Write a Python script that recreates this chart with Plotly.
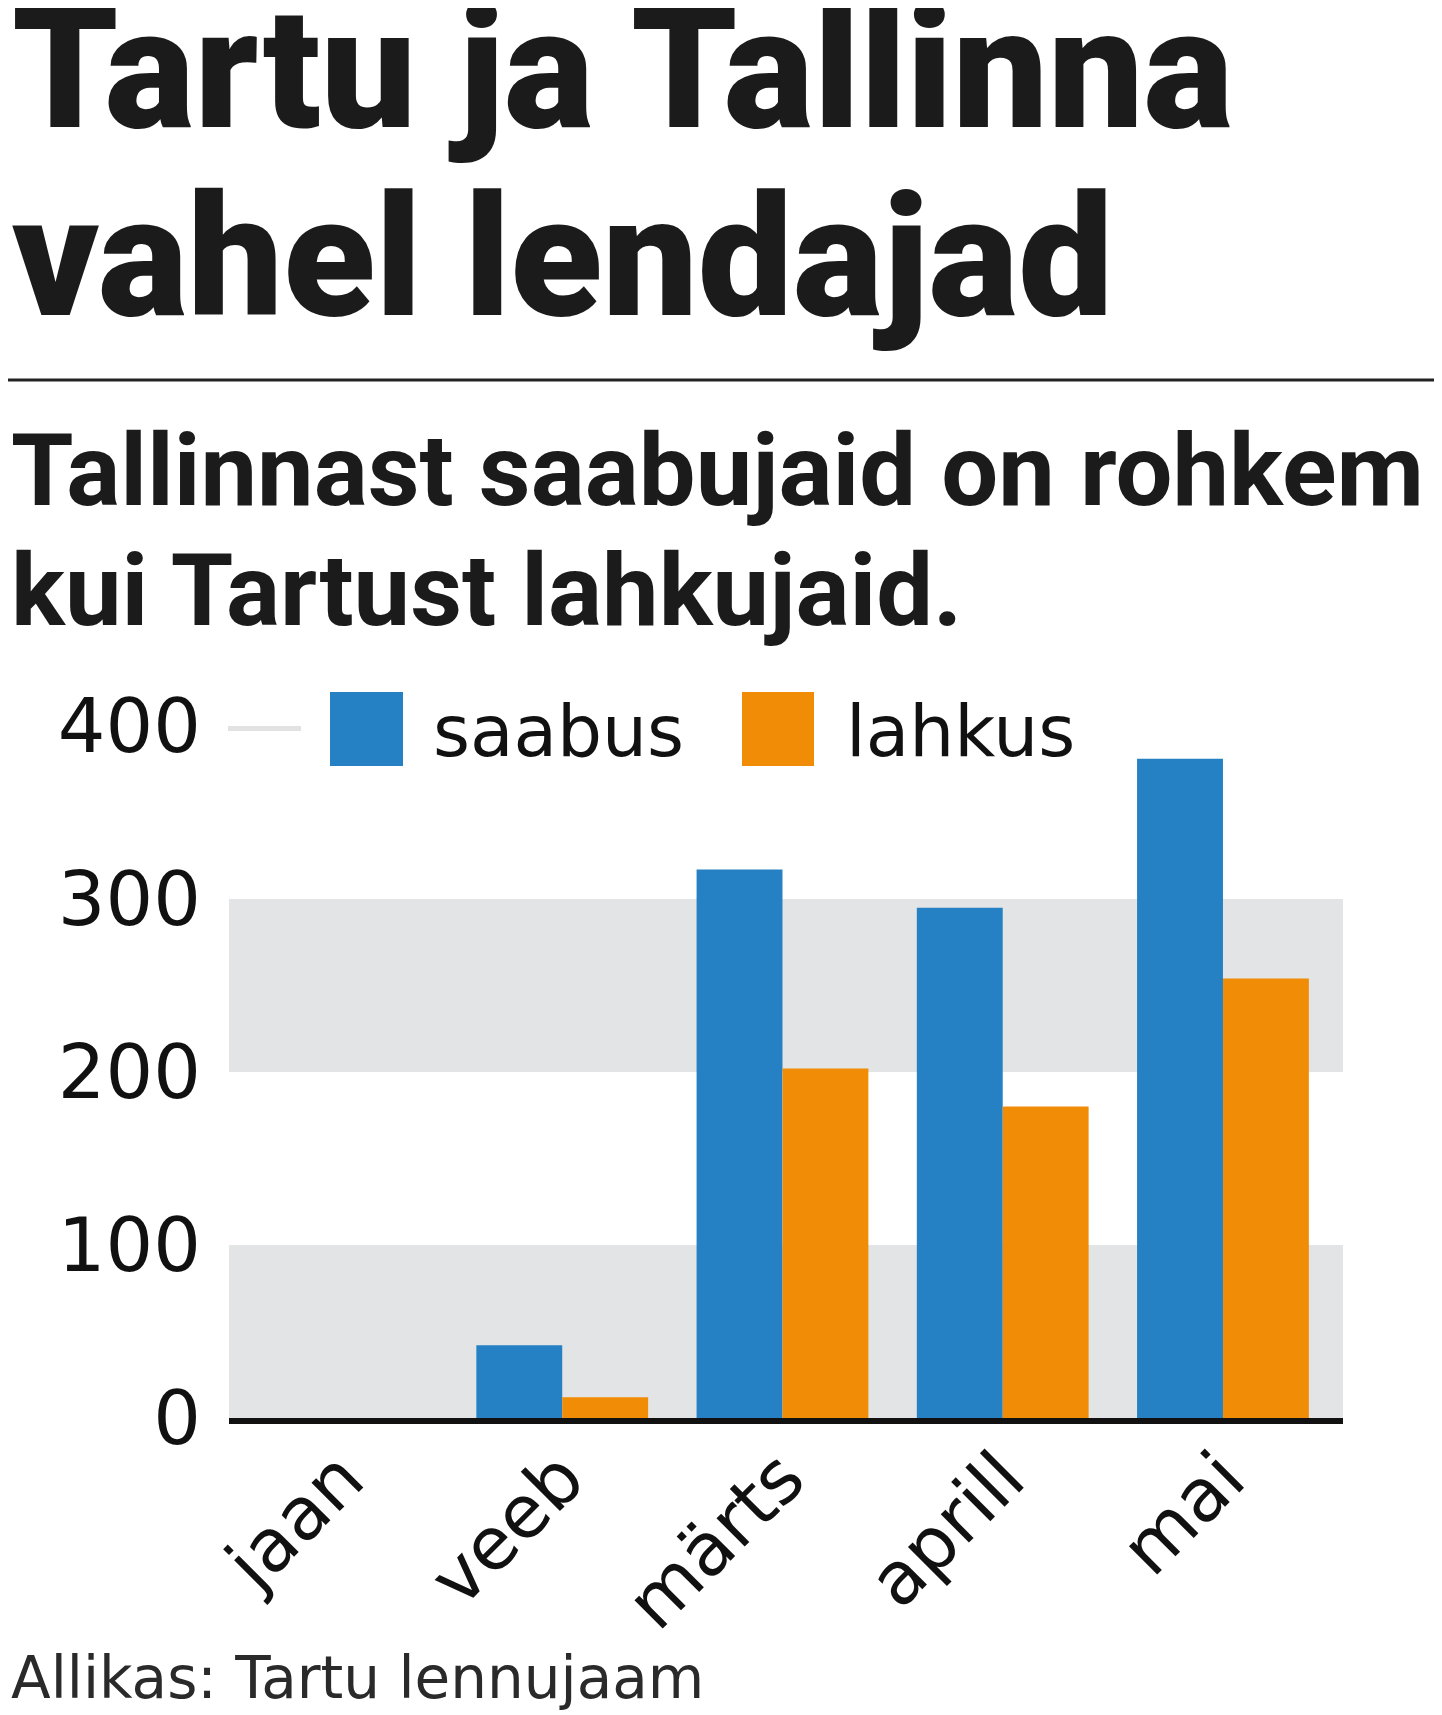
import plotly.graph_objects as go

# ---------------- data ----------------
categories = ["jaan", "veeb", "märts", "aprill", "mai"]
saabus = [0, 42, 317, 295, 381]
lahkus = [0, 12, 202, 180, 254]
series_names = ["saabus", "lahkus"]
series_colors = ["#2581c4", "#f18c06"]
y_ticks = [0, 100, 200, 300, 400]
grey_bands = [(0, 100), (200, 300)]

title_lines = ["Tartu ja Tallinna", "vahel lendajad"]
subtitle_lines = ["Tallinnast saabujaid on rohkem", "kui Tartust lahkujaid."]
source_text = "Allikas: Tartu lennujaam"

# ---------------- layout helpers (page pixel coordinates) ----------------
OFF = 8                      # default body margin of the html page
PAGE_W, PAGE_H = 1442, 1715
W, H = PAGE_W - OFF, PAGE_H - OFF
L, R, T, B = 229, 1343, 726, 1418  # plot area in page pixels


def px_x(px):
    return (px - L) / (R - L)


def px_y(py):
    return (B - py) / (B - T)


CHART_FONT = "DejaVu Sans"
HEAD_FONT = "Roboto"
INK = "#1b1b1b"

fig = go.Figure()
for name, vals, col in zip(series_names, [saabus, lahkus], series_colors):
    fig.add_trace(go.Bar(x=categories, y=vals, name=name,
                         marker=dict(color=col, line=dict(width=0))))

shapes = []
for lo, hi in grey_bands:
    shapes.append(dict(type="rect", xref="paper", yref="y", x0=0, x1=1,
                       y0=lo, y1=hi, fillcolor="#e3e4e5",
                       line=dict(width=0), layer="below"))
# short grey tick at the top value
shapes.append(dict(type="line", xref="paper", yref="y",
                   x0=px_x(228), x1=px_x(301), y0=y_ticks[-1], y1=y_ticks[-1],
                   line=dict(color="#e2e2e2", width=10), layer="below"))
# rule under title
shapes.append(dict(type="line", xref="paper", yref="paper",
                   x0=px_x(0), x1=px_x(PAGE_W), y0=px_y(380), y1=px_y(380),
                   line=dict(color="#222222", width=3)))

annotations = []
# title
for line, base in zip(title_lines, [127, 315]):
    annotations.append(dict(text=line, xref="paper", yref="paper",
                            x=px_x(10), y=px_y(base - 58), xanchor="left",
                            yanchor="middle", showarrow=False,
                            font=dict(family=HEAD_FONT, size=169, color=INK,
                                      weight=900)))
for line, base in zip(subtitle_lines, [505, 625]):
    annotations.append(dict(text=line, xref="paper", yref="paper",
                            x=px_x(9), y=px_y(base - 35), xanchor="left",
                            yanchor="middle", showarrow=False,
                            font=dict(family=HEAD_FONT, size=101, color=INK,
                                      weight=700)))

# custom legend
legend_sw = [(330, 403, 431), (742, 814, 844)]
for (x0, x1, tx), name, col in zip(legend_sw, series_names, series_colors):
    shapes.append(dict(type="rect", xref="paper", yref="paper",
                       x0=px_x(x0), x1=px_x(x1), y0=px_y(766), y1=px_y(692),
                       fillcolor=col, line=dict(width=0)))
    annotations.append(dict(text=name, xref="paper", yref="paper",
                            x=px_x(tx), y=px_y(731), xanchor="left",
                            yanchor="middle", showarrow=False,
                            font=dict(family=CHART_FONT, size=71, color="#111111")))

annotations.append(dict(text=source_text, xref="paper", yref="paper",
                        x=px_x(9), y=px_y(1678), xanchor="left",
                        yanchor="middle", showarrow=False,
                        font=dict(family=CHART_FONT, size=58, color="#2a2a2a")))

fig.update_layout(
    width=W, height=H, autosize=False,
    margin=dict(l=L - OFF, r=W - (R - OFF), t=T - OFF, b=H - (B - OFF), pad=0),
    paper_bgcolor="white", plot_bgcolor="white",
    barmode="group", bargap=0.22, bargroupgap=0,
    showlegend=False,
    shapes=shapes, annotations=annotations,
    font=dict(family=CHART_FONT, color="#111111"),
    xaxis=dict(type="category", range=[-0.513, 4.545], tickangle=-45,
               tickfont=dict(family=CHART_FONT, size=73, color="#111111"),
               ticks="", ticklabelstandoff=-18,
               showline=True, linecolor="#111111", linewidth=6,
               showgrid=False, zeroline=False, fixedrange=True),
    yaxis=dict(range=[0, 400], tickvals=y_ticks,
               tickfont=dict(family=CHART_FONT, size=75, color="#111111"),
               ticks="outside", ticklen=12, tickcolor="rgba(0,0,0,0)",
               showline=False, showgrid=False, zeroline=False, fixedrange=True),
)

fig.write_html("out.html")
